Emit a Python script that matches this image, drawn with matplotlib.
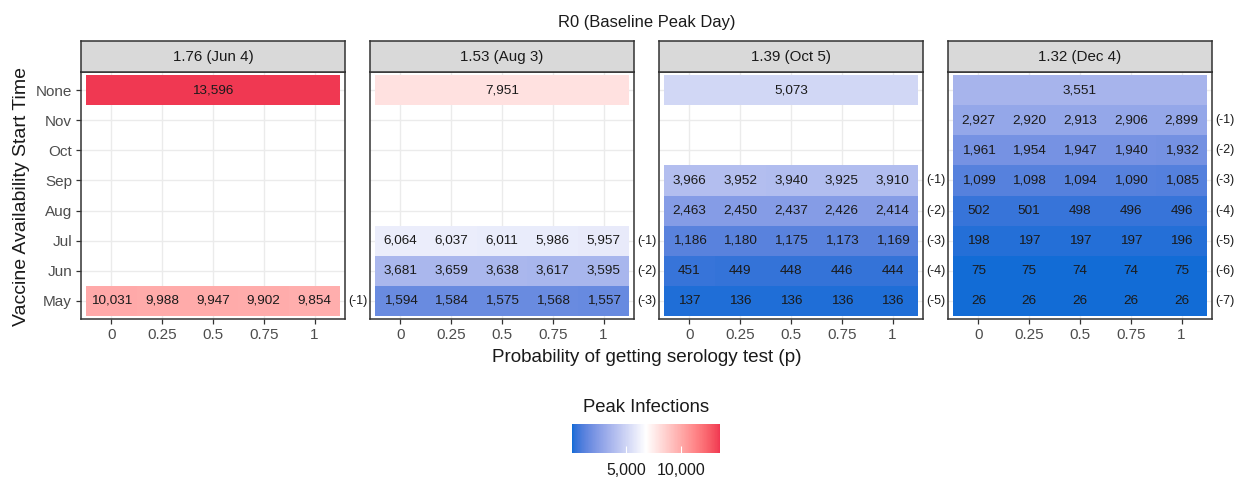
import numpy as np
import matplotlib
matplotlib.use("Agg")
import matplotlib.pyplot as plt
from matplotlib.colors import ListedColormap, Normalize, to_rgb
from matplotlib.cm import ScalarMappable

plt.rcParams['font.family'] = ['Liberation Sans', 'DejaVu Sans']

# categories
start_months = ["May", "Jun", "Jul", "Aug", "Sep", "Oct", "Nov", "None"]
p_labels = ["0", "0.25", "0.5", "0.75", "1"]
panel_titles = ["1.76 (Jun 4)", "1.53 (Aug 3)", "1.39 (Oct 5)", "1.32 (Dec 4)"]

# peak infections when no vaccine
none_peak = [13596, 7951, 5073, 3551]

# peak infections per start month (rows from May upward), per p
peaks_jun4 = [
    [10031, 9988, 9947, 9902, 9854],
]
peaks_aug3 = [
    [1594, 1584, 1575, 1568, 1557],
    [3681, 3659, 3638, 3617, 3595],
    [6064, 6037, 6011, 5986, 5957],
]
peaks_oct5 = [
    [137, 136, 136, 136, 136],
    [451, 449, 448, 446, 444],
    [1186, 1180, 1175, 1173, 1169],
    [2463, 2450, 2437, 2426, 2414],
    [3966, 3952, 3940, 3925, 3910],
]
peaks_dec4 = [
    [26, 26, 26, 26, 26],
    [75, 75, 74, 74, 75],
    [198, 197, 197, 197, 196],
    [502, 501, 498, 496, 496],
    [1099, 1098, 1094, 1090, 1085],
    [1961, 1954, 1947, 1940, 1932],
    [2927, 2920, 2913, 2906, 2899],
]
panel_peaks = [peaks_jun4, peaks_aug3, peaks_oct5, peaks_dec4]


# ggplot-style diverging gradient interpolated in Lab space
def srgb_to_lab(c):
    c = np.asarray(c, float)
    lin = np.where(c <= 0.04045, c / 12.92, ((c + 0.055) / 1.055) ** 2.4)
    m = np.array([[0.4124, 0.3576, 0.1805],
                  [0.2126, 0.7152, 0.0722],
                  [0.0193, 0.1192, 0.9505]])
    xyz = m @ lin / np.array([0.95047, 1.0, 1.08883])
    f = np.where(xyz > 0.008856, np.cbrt(xyz), 7.787 * xyz + 16 / 116)
    return np.array([116 * f[1] - 16, 500 * (f[0] - f[1]), 200 * (f[1] - f[2])])


def lab_to_srgb(lab):
    L, a, b = lab
    fy = (L + 16) / 116
    fx = fy + a / 500
    fz = fy - b / 200
    f = np.array([fx, fy, fz])
    xyz = np.where(f > 0.2069, f ** 3, (f - 16 / 116) / 7.787) * np.array([0.95047, 1.0, 1.08883])
    m = np.array([[3.2406, -1.5372, -0.4986],
                  [-0.9689, 1.8758, 0.0415],
                  [0.0557, -0.2040, 1.0570]])
    lin = m @ xyz
    c = np.where(lin <= 0.0031308, 12.92 * lin, 1.055 * np.clip(lin, 0, None) ** (1 / 2.4) - 0.055)
    return np.clip(c, 0, 1)


low, mid, high = srgb_to_lab(to_rgb("#126CD6")), srgb_to_lab(to_rgb("#FFFFFF")), srgb_to_lab(to_rgb("#F03852"))
colors = []
for t in np.linspace(0, 1, 256):
    if t < 0.5:
        lab = low + (mid - low) * (t / 0.5)
    else:
        lab = mid + (high - mid) * ((t - 0.5) / 0.5)
    colors.append(lab_to_srgb(lab))
cmap = ListedColormap(colors)

all_vals = none_peak + [v for pk in panel_peaks for row in pk for v in row]
norm = Normalize(vmin=min(all_vals), vmax=max(all_vals))

fig = plt.figure(figsize=(12.38, 4.79), dpi=100)
W, H = 1238, 479
lefts = [81, 370, 659, 948]
pw = 264
ptop, pbot = 72, 319
stop = 41

x_pos = np.arange(len(p_labels)) * 0.25

for i, left in enumerate(lefts):
    ax = fig.add_axes([left / W, 1 - pbot / H, pw / W, (pbot - ptop) / H])
    ax.set_xlim(-0.15, 1.15)
    ax.set_ylim(-0.6, 7.6)
    for xv in x_pos:
        ax.axvline(xv, color="#EBEBEB", lw=1.0, zorder=0)
    for yv in range(len(start_months)):
        ax.axhline(yv, color="#EBEBEB", lw=1.0, zorder=0)

    # None row: one tile across all p
    ax.barh(7, 1.25, left=-0.125, height=1, color=cmap(norm(none_peak[i])), zorder=1)
    ax.text(0.5, 7, f"{none_peak[i]:,}", ha="center", va="center", fontsize=9.7, color="#1A1A1A", zorder=2)

    rows = panel_peaks[i]
    n = len(rows)
    for r, row in enumerate(rows):
        ax.barh([r] * len(row), 0.25, left=x_pos - 0.125, height=1,
                color=[cmap(norm(v)) for v in row], zorder=1)
        for xv, v in zip(x_pos, row):
            ax.text(xv, r, f"{v:,}", ha="center", va="center", fontsize=9.7, color="#1A1A1A", zorder=2)
        ax.text(1.215, r, f"(-{n - r})", ha="center", va="center", fontsize=9,
                color="#1A1A1A", clip_on=False)

    ax.set_xticks(x_pos)
    ax.set_xticklabels(p_labels)
    ax.set_yticks(range(len(start_months)))
    if i == 0:
        ax.set_yticklabels(start_months)
    else:
        ax.set_yticklabels([])
    ax.tick_params(axis="both", labelsize=11, labelcolor="#4D4D4D", color="#333333",
                   length=3.5, width=0.9, pad=3)
    if i > 0:
        ax.tick_params(axis="y", length=0)
    for s in ax.spines.values():
        s.set_color("#333333")
        s.set_linewidth(1.1)

    # strip
    sax = fig.add_axes([left / W, 1 - ptop / H, pw / W, (ptop - stop) / H])
    sax.set_facecolor("#D9D9D9")
    sax.set_xticks([])
    sax.set_yticks([])
    for s in sax.spines.values():
        s.set_color("#333333")
        s.set_linewidth(1.1)
    sax.text(0.5, 0.5, panel_titles[i], ha="center", va="center", fontsize=10.9,
             color="#1A1A1A", transform=sax.transAxes)

fig.text(647 / W, 1 - 23 / H, "R0 (Baseline Peak Day)", ha="center", va="center", fontsize=11.9,
         color="#1A1A1A")
fig.text(647 / W, 1 - 357 / H, "Probability of getting serology test (p)", ha="center", va="center",
         fontsize=13.6, color="#1A1A1A")
fig.text(22 / W, 1 - 196 / H, "Vaccine Availability Start Time", ha="center", va="center",
         rotation=90, fontsize=14, color="#1A1A1A")

# colour bar legend
cax = fig.add_axes([572 / W, 1 - 453 / H, 148 / W, 29 / H])
cb = fig.colorbar(ScalarMappable(norm=norm, cmap=cmap), cax=cax, orientation="horizontal",
                  ticks=[5000, 10000])
cb.outline.set_visible(False)
cb.ax.set_xticklabels(["5,000", "10,000"])
cb.ax.tick_params(axis="x", direction="in", color="white", length=5, width=0.8,
                  labelsize=11.4, labelcolor="#1A1A1A", pad=7)
fig.text(646 / W, 1 - 407 / H, "Peak Infections", ha="center", va="center", fontsize=13.3,
         color="#1A1A1A")

fig.savefig("out.png", dpi=100)
